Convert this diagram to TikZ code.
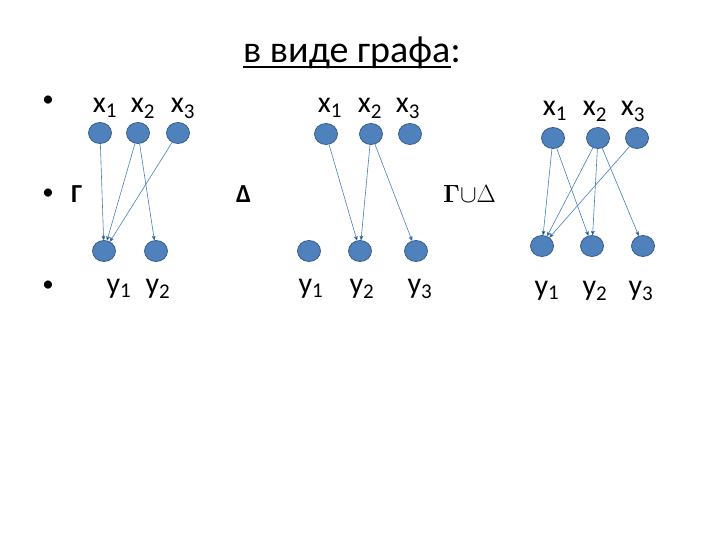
\documentclass[tikz,border=0pt]{standalone}
\usepackage{fontspec}
\setmainfont{Carlito}
\usetikzlibrary{positioning, arrows, shapes.geometric}
\definecolor{nodeblue}{HTML}{4F81BD}
\definecolor{rimblue}{HTML}{385D8A}
\definecolor{edgeblue}{HTML}{4A7EBB}
\tikzset {
    ->,
    >=stealth',
    vert/.style={ellipse, fill=nodeblue, draw=rimblue, line width=0.8pt,
                 minimum width=23pt, minimum height=21pt, inner sep=0pt},
    wire/.style={draw=edgeblue, line width=0.6pt},
    lbl/.style={anchor=base, inner sep=0pt, font=\fontsize{30}{36}\selectfont},
    dot/.style={anchor=base, inner sep=0pt, font=\fontsize{23}{28}\selectfont},
    head/.style={anchor=base west, inner sep=0pt, font=\fontsize{38}{44}\selectfont},
    sym/.style={anchor=base west, inner sep=0pt, font=\fontsize{26}{30}\selectfont\bfseries}
}

\begin{document}
\begin{tikzpicture}[x=1pt, y=-1pt]
    \useasboundingbox (0,0) rectangle (720,540);

    % title and bullets
    \node[head] (title) at (243,63) {в виде графа};
    \node[head, anchor=base west] (colon) at (title.base east) {:};
    \draw[-, line width=1.2pt] ([yshift=-4pt]title.base west) -- ([yshift=-4pt]title.base east);
    \node[dot] (dot1) at (48,107) {•};
    \node[dot] (dot2) at (48,200) {•};
    \node[dot] (dot3) at (48,291) {•};
    \node[sym] (gam) at (71,203) {Г};
    \node[sym] (del) at (236,203) {Δ};
    \node[sym, font=\fontsize{28}{32}\selectfont] (uni) at (443,203) {{\boldmath$\Gamma$}$\cup\Delta$};

    % graph Gamma
    \node[vert] (gx1) at (100,133) {};
    \node[vert, right of=gx1, node distance=38pt] (gx2) {};
    \node[vert, right of=gx2, node distance=40pt] (gx3) {};
    \node[vert] (gy1) at (104,251) {};
    \node[vert, right of=gy1, node distance=52pt] (gy2) {};
    \node[lbl] (gx1l) at (105,113) {x\textsubscript{1}};
    \node[lbl] (gx2l) at (143,113) {x\textsubscript{2}};
    \node[lbl] (gx3l) at (183,113) {x\textsubscript{3}};
    \node[lbl] (gy1l) at (119,293) {y\textsubscript{1}};
    \node[lbl] (gy2l) at (158,293) {y\textsubscript{2}};

    % graph Delta
    \node[vert] (dx1) at (326,134) {};
    \node[vert, right of=dx1, node distance=45pt] (dx2) {};
    \node[vert, right of=dx2, node distance=39pt] (dx3) {};
    \node[vert] (dy1) at (309,251) {};
    \node[vert, right of=dy1, node distance=51pt] (dy2) {};
    \node[vert, right of=dy2, node distance=56pt] (dy3) {};
    \node[lbl] (dx1l) at (330,113) {x\textsubscript{1}};
    \node[lbl] (dx2l) at (370,113) {x\textsubscript{2}};
    \node[lbl] (dx3l) at (408,113) {x\textsubscript{3}};
    \node[lbl] (dy1l) at (311,293) {y\textsubscript{1}};
    \node[lbl] (dy2l) at (362,293) {y\textsubscript{2}};
    \node[lbl] (dy3l) at (420,293) {y\textsubscript{3}};

    % graph union
    \node[vert] (ux1) at (553,138) {};
    \node[vert, right of=ux1, node distance=45pt] (ux2) {};
    \node[vert, right of=ux2, node distance=39pt] (ux3) {};
    \node[vert] (uy1) at (542,246) {};
    \node[vert, right of=uy1, node distance=50pt] (uy2) {};
    \node[vert, right of=uy2, node distance=51pt] (uy3) {};
    \node[lbl] (ux1l) at (555,116) {x\textsubscript{1}};
    \node[lbl] (ux2l) at (595,116) {x\textsubscript{2}};
    \node[lbl] (ux3l) at (633,116) {x\textsubscript{3}};
    \node[lbl] (uy1l) at (547,295) {y\textsubscript{1}};
    \node[lbl] (uy2l) at (595,295) {y\textsubscript{2}};
    \node[lbl] (uy3l) at (641,295) {y\textsubscript{3}};

    \draw[wire]
    (gx1) edge (gy1)
    (gx2) edge (gy1)
    (gx3) edge (gy1)
    (gx2) edge (gy2)
    (dx1) edge (dy2)
    (dx2) edge (dy2)
    (dx2) edge (dy3)
    (ux1) edge (uy1)
    (ux1) edge (uy2)
    (ux2) edge (uy1)
    (ux2) edge (uy2)
    (ux2) edge (uy3)
    (ux3) edge (uy1);
\end{tikzpicture}
\end{document}
